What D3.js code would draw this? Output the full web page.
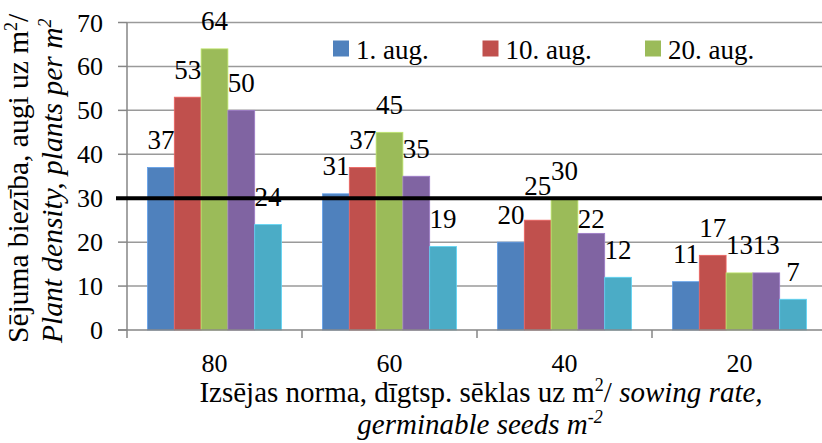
<!DOCTYPE html>
<html>
<head>
<meta charset="utf-8">
<script src="https://cdn.jsdelivr.net/npm/d3@7"></script>
<style>
  body { margin: 0; background: #fff; }
  svg { display: block; overflow: hidden; }
</style>
</head>
<body>
<svg width="822" height="443" style="font-family: 'Liberation Serif'"></svg>
<script>
// sowing rate groups and the five sowing dates
var rates = ["80", "60", "40", "20"];
var series = ["s1", "s2", "s3", "s4", "s5"];
var legendLabels = ["1. aug.", "10. aug.", "20. aug."];
var colors = ["#4f81bd", "#c0504d", "#9bbb59", "#8064a2", "#4bacc6"];

var v80 = [37, 53, 64, 50, 24];
var v60 = [31, 37, 45, 35, 19];
var v40 = [20, 25, 30, 22, 12];
var v20 = [11, 17, 13, 13, 7];

var yTicks = [0, 10, 20, 30, 40, 50, 60, 70];
var threshold = 30;

// a couple of labels were moved by hand in the original
var labelShift = { "40-1": -7, "40-3": 13 };

var table = [v80, v60, v40, v20].map(function(vals, i) {
  return { rate: rates[i], values: vals };
});

var FONT = "'Liberation Serif'";

var svg = d3.select("svg"),
    pLeft = 127, pRight = 827, pTop = 22.5, pBottom = 330;

var x0 = d3.scaleBand().domain(rates).range([pLeft, pRight]);
var x1 = d3.scaleBand().domain(series).range([0, x0.bandwidth()]).paddingOuter(0.765);
var y = d3.scaleLinear().domain([0, 70]).range([pBottom, pTop]);

// gridlines
svg.append("g").selectAll("line")
  .data(yTicks.filter(function(d) { return d > 0; }))
  .enter().append("line")
    .attr("x1", pLeft).attr("x2", pRight)
    .attr("y1", function(d) { return y(d); })
    .attr("y2", function(d) { return y(d); })
    .attr("stroke", "#9a9a9a").attr("stroke-width", 1.5);

// bars
var groups = svg.append("g").selectAll("g")
  .data(table)
  .enter().append("g")
    .attr("transform", function(d) { return "translate(" + x0(d.rate) + ",0)"; });

function cells(d) {
  return d.values.map(function(v, i) { return { rate: d.rate, key: series[i], i: i, v: v }; });
}

groups.selectAll("rect")
  .data(cells)
  .enter().append("rect")
    .attr("x", function(d) { return x1(d.key); })
    .attr("width", x1.bandwidth())
    .attr("y", function(d) { return y(d.v); })
    .attr("height", function(d) { return pBottom - y(d.v); })
    .attr("fill", function(d) { return colors[d.i]; })
    .attr("stroke", function(d) { return d3.color(colors[d.i]).brighter(0.6); })
    .attr("stroke-width", 0.8);

// axes
var yAxis = svg.append("g");
yAxis.append("line").attr("x1", pLeft).attr("x2", pLeft).attr("y1", pTop).attr("y2", pBottom)
  .attr("stroke", "#868686").attr("stroke-width", 1.5);
yAxis.selectAll("line.tk").data(yTicks).enter().append("line")
  .attr("class", "tk")
  .attr("x1", pLeft - 9).attr("x2", pLeft)
  .attr("y1", function(d) { return y(d); }).attr("y2", function(d) { return y(d); })
  .attr("stroke", "#868686").attr("stroke-width", 1.5);
yAxis.selectAll("text").data(yTicks).enter().append("text")
  .attr("x", 103).attr("y", function(d) { return y(d) + 9; })
  .attr("text-anchor", "end")
  .style("font-family", FONT).style("font-size", "26px")
  .text(function(d) { return d; });

var xAxis = svg.append("g");
xAxis.append("line").attr("x1", pLeft - 9).attr("x2", pRight).attr("y1", pBottom).attr("y2", pBottom)
  .attr("stroke", "#868686").attr("stroke-width", 1.5);
xAxis.selectAll("line.tk").data(rates.concat(["end"])).enter().append("line")
  .attr("class", "tk")
  .attr("x1", function(d, i) { return pLeft + i * x0.step(); })
  .attr("x2", function(d, i) { return pLeft + i * x0.step(); })
  .attr("y1", pBottom).attr("y2", pBottom + 8)
  .attr("stroke", "#868686").attr("stroke-width", 1.5);
xAxis.selectAll("text").data(rates).enter().append("text")
  .attr("x", function(d) { return x0(d) + x0.bandwidth() / 2; })
  .attr("y", 371.5).attr("text-anchor", "middle")
  .style("font-family", FONT).style("font-size", "26px")
  .text(function(d) { return d; });

// threshold line
svg.append("line")
  .attr("x1", 116).attr("x2", pRight)
  .attr("y1", y(threshold)).attr("y2", y(threshold))
  .attr("stroke", "#000").attr("stroke-width", 4);

// data labels
groups.selectAll("text")
  .data(cells)
  .enter().append("text")
    .attr("x", function(d) { return x1(d.key) + x1.bandwidth() / 2; })
    .attr("y", function(d) { return y(d.v) - 18.5 + (labelShift[d.rate + "-" + d.i] || 0); })
    .attr("text-anchor", "middle")
    .style("font-family", FONT).style("font-size", "27px")
    .text(function(d) { return d.v; });

// legend
var legend = svg.append("g").selectAll("g")
  .data(legendLabels)
  .enter().append("g")
    .attr("transform", function(d, i) { return "translate(" + [333, 482.5, 645][i] + ",0)"; });
legend.append("rect").attr("x", 0).attr("y", 40.5).attr("width", 16).attr("height", 16)
  .attr("fill", function(d, i) { return colors[i]; });
legend.append("text").attr("x", 23).attr("y", 58.5)
  .style("font-family", FONT).style("font-size", "27px")
  .text(function(d) { return d; });

// axis titles
var xt = svg.append("text").attr("text-anchor", "middle")
  .style("font-family", FONT).style("font-size", "29px");
var l1 = xt.append("tspan").attr("x", 481).attr("y", 401.5);
l1.append("tspan").text("Izsējas norma, dīgtsp. sēklas uz m");
l1.append("tspan").attr("dy", -11).style("font-size", "18px").text("2");
l1.append("tspan").attr("dy", 11).text("/ ");
l1.append("tspan").style("font-style", "italic").text("sowing rate,");
var l2 = xt.append("tspan").attr("x", 480).attr("y", 434).style("font-style", "italic");
l2.append("tspan").text("germinable seeds m");
l2.append("tspan").attr("dy", -11).style("font-size", "18px").text("-2");

var yt = svg.append("g").attr("transform", "rotate(-90)");
var t1 = yt.append("text").attr("x", -343).attr("y", 28)
  .style("font-family", FONT).style("font-size", "29.5px");
t1.append("tspan").text("Sējuma biezība, augi uz m");
t1.append("tspan").attr("dy", -11).style("font-size", "18px").text("2");
t1.append("tspan").attr("dy", 11).text("/");
var t2 = yt.append("text").attr("x", -343).attr("y", 62)
  .style("font-family", FONT).style("font-size", "29.5px").style("font-style", "italic");
t2.append("tspan").text("Plant density, plants per m");
t2.append("tspan").attr("dy", -11).style("font-size", "18px").text("2");
</script>
</body>
</html>
